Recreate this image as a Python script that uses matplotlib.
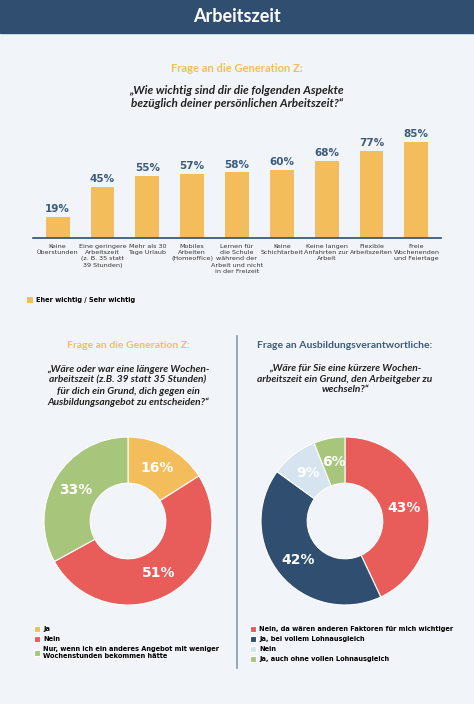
import numpy as np
import matplotlib.pyplot as plt
from matplotlib.patches import Rectangle

# Daten
kategorien = ["Keine\nÜberstunden", "Eine geringere\nArbeitszeit\n(z. B. 35 statt\n39 Stunden)",
              "Mehr als 30\nTage Urlaub", "Mobiles\nArbeiten\n(Homeoffice)",
              "Lernen für\ndie Schule\nwährend der\nArbeit und nicht\nin der Freizeit",
              "Keine\nSchichtarbeit", "Keine langen\nAnfahrten zur\nArbeit",
              "Flexible\nArbeitszeiten", "Freie\nWochenenden\nund Feiertage"]
werte = [19, 45, 55, 57, 58, 60, 68, 77, 85]

links_labels = ["Ja", "Nein", "Nur, wenn ich ein anderes Angebot mit weniger\nWochenstunden bekommen hätte"]
links_werte = [16, 51, 33]
rechts_labels = ["Nein, da wären anderen Faktoren für mich wichtiger", "Ja, bei vollem Lohnausgleich",
                 "Nein", "Ja, auch ohne vollen Lohnausgleich"]
rechts_werte = [43, 42, 9, 6]

ORANGE = "#f4bd5c"
ROT = "#e85d5a"
GRUEN = "#a7c67b"
BLAU = "#2f4e70"
HELL = "#d6e4ef"
TEXTBLAU = "#3d5b7c"
SCHRIFT = "Lato"

W, H = 474, 704
fig = plt.figure(figsize=(W / 100, H / 100), dpi=100)
fig.patch.set_facecolor("#f1f5f9")

def fx(x):
    return x / W

def fy(y):
    return 1 - y / H

# Kopfzeile
fig.patches.append(Rectangle((0, fy(33)), 1, 33 / H, transform=fig.transFigure, color=BLAU))
fig.text(0.5, fy(17), "Arbeitszeit", color="white", fontsize=13, fontweight="bold",
         ha="center", va="center", family=SCHRIFT)

# Balkendiagramm
fig.text(0.5, fy(69), "Frage an die Generation Z:", color=ORANGE, fontsize=8, fontweight="bold",
         ha="center", va="center", family=SCHRIFT)
fig.text(0.5, fy(97), "„Wie wichtig sind dir die folgenden Aspekte\nbezüglich deiner persönlichen Arbeitszeit?“",
         fontsize=8.5, fontweight="bold", style="italic", ha="center", va="center",
         family=SCHRIFT, linespacing=1.3, color="#222222")

ax = fig.add_axes([fx(33), fy(238), fx(408), (238 - 125) / H])
ax.set_facecolor("none")
x = range(len(werte))
ax.bar(x, werte, width=0.53, color=ORANGE, label="Eher wichtig / Sehr wichtig")
for i, v in zip(x, werte):
    ax.text(i, v + 2.5, f"{v}%", ha="center", va="bottom", color=TEXTBLAU, fontsize=7.5, fontweight="bold")
ax.set_xlim(-0.55, len(werte) - 0.45)
ax.set_ylim(0, 100)
ax.set_yticks([])
ax.set_xticks(list(x))
ax.set_xticklabels(kategorien, fontsize=4.6, color="#333333", va="top", linespacing=1.35)
ax.tick_params(axis="x", length=0, pad=4)
for s in ["top", "left", "right"]:
    ax.spines[s].set_visible(False)
ax.spines["bottom"].set_color(BLAU)
ax.spines["bottom"].set_linewidth(1.2)
ax.legend(loc="upper left", bbox_to_anchor=(-0.03, -0.47), frameon=False,
          handlelength=0.9, handleheight=0.9, handletextpad=0.5, prop={"weight": "bold", "size": 4.8})

# Trennlinie
fig.add_artist(plt.Line2D([fx(237), fx(237)], [fy(336), fy(668)], transform=fig.transFigure,
                          color="#8a9aaa", linewidth=1.2))

def donut(cx, cy, r, werte, farben):
    a = fig.add_axes([fx(cx - r), fy(cy + r), 2 * r / W, 2 * r / H])
    wedges, _ = a.pie(werte, colors=farben, startangle=90, counterclock=False, radius=1,
                      wedgeprops=dict(width=0.55, edgecolor="white", linewidth=0.8))
    start = 90
    for v in werte:
        mid = np.deg2rad(start - v * 3.6 / 2)
        a.text(0.72 * np.cos(mid), 0.72 * np.sin(mid), f"{v}%", color="white",
               fontsize=10, fontweight="bold", ha="center", va="center")
        start -= v * 3.6
    a.set_xlim(-1, 1)
    a.set_ylim(-1, 1)
    a.set_aspect("equal")
    return wedges

# Linkes Donut
fig.text(fx(128), fy(346), "Frage an die Generation Z:", color=ORANGE, fontsize=7.5, fontweight="bold",
         ha="center", va="center", family=SCHRIFT)
fig.text(fx(128), fy(386), "„Wäre oder war eine längere Wochen-\narbeitszeit (z.B. 39 statt 35 Stunden)\n"
         "für dich ein Grund, dich gegen ein\nAusbildungsangebot zu entscheiden?“",
         fontsize=7.3, fontweight="bold", style="italic", ha="center", va="center",
         family=SCHRIFT, linespacing=1.25, color="#222222")
w1 = donut(128, 521, 84, links_werte, [ORANGE, ROT, GRUEN])
fig.legend(w1, links_labels, loc="upper left", bbox_to_anchor=(fx(28), fy(620)), frameon=False,
           handlelength=0.9, handleheight=0.9, handletextpad=0.5, labelspacing=0.6,
           prop={"weight": "bold", "size": 4.8})

# Rechtes Donut
fig.text(fx(345), fy(346), "Frage an Ausbildungsverantwortliche:", color=TEXTBLAU, fontsize=7.5,
         fontweight="bold", ha="center", va="center", family=SCHRIFT)
fig.text(fx(345), fy(379), "„Wäre für Sie eine kürzere Wochen-\narbeitszeit ein Grund, den Arbeitgeber zu\nwechseln?“",
         fontsize=7.3, fontweight="bold", style="italic", ha="center", va="center",
         family=SCHRIFT, linespacing=1.25, color="#222222")
w2 = donut(345, 521, 84, rechts_werte, [ROT, BLAU, HELL, GRUEN])
fig.legend(w2, rechts_labels, loc="upper left", bbox_to_anchor=(fx(244), fy(620)), frameon=False,
           handlelength=0.9, handleheight=0.9, handletextpad=0.5, labelspacing=0.6,
           prop={"weight": "bold", "size": 4.8})

fig.savefig("out.png", dpi=100, facecolor=fig.get_facecolor())
